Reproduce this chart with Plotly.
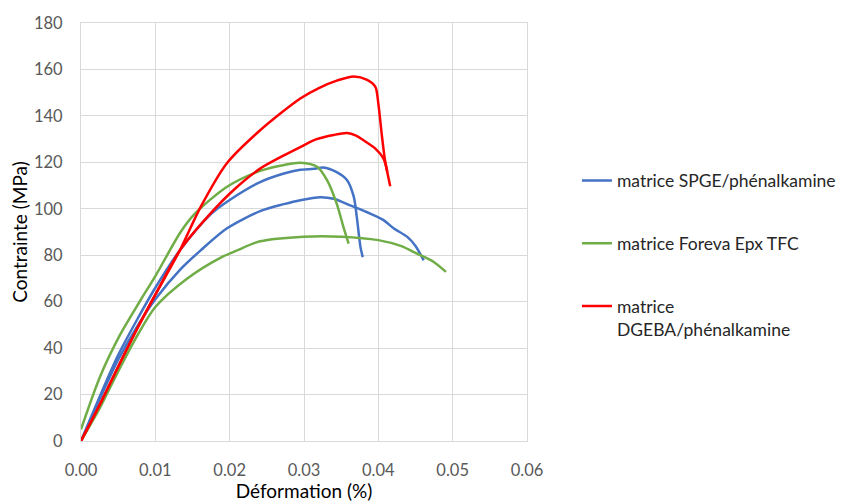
import plotly.graph_objects as go

# SPGE/phénalkamine specimens
spge1_x = [0, 0.0025, 0.005, 0.0075, 0.0100, 0.0133, 0.0174, 0.0201, 0.0241, 0.0273, 0.0295, 0.0313, 0.0326, 0.0344, 0.0358, 0.0367, 0.0371, 0.0376, 0.0379]
spge1_y = [0, 19, 37, 52, 66, 82.1, 97.5, 104, 111.5, 115.2, 116.8, 117.2, 117.8, 115.8, 112.3, 105.1, 96.5, 83.5, 79.2]
spge2_x = [0, 0.0025, 0.005, 0.0075, 0.0100, 0.0134, 0.0161, 0.0196, 0.0241, 0.0273, 0.0295, 0.0322, 0.0340, 0.0362, 0.0385, 0.0407, 0.0421, 0.0439, 0.0450, 0.0461]
spge2_y = [0, 18, 35, 49, 61, 74, 82.1, 91.5, 99, 102, 103.7, 105, 104.3, 101.5, 98.5, 95.1, 91.5, 87.9, 84, 77.8]

# Foreva Epx TFC specimens
fore1_x = [0, 0.0026, 0.0053, 0.0080, 0.0100, 0.0134, 0.0152, 0.0196, 0.0241, 0.0275, 0.0295, 0.0318, 0.0331, 0.0344, 0.0353, 0.0360]
fore1_y = [5, 28, 46, 60.6, 71, 90, 97.5, 109.4, 116.3, 119, 119.8, 118, 112.3, 102.2, 92.2, 85]
fore2_x = [0, 0.0025, 0.0050, 0.0075, 0.0100, 0.0143, 0.0188, 0.0210, 0.0241, 0.0300, 0.0350, 0.0400, 0.0430, 0.0452, 0.0475, 0.0491]
fore2_y = [0, 14, 30, 45, 57.7, 70, 79, 82.1, 86, 88, 88, 86.5, 84, 80.7, 77, 72.8]

# DGEBA/phénalkamine specimens
dgeba1_x = [0, 0.0025, 0.005, 0.0075, 0.0100, 0.0133, 0.0161, 0.0196, 0.0241, 0.0295, 0.0320, 0.0345, 0.0367, 0.0385, 0.0396, 0.0400, 0.0405, 0.0409, 0.0416]
dgeba1_y = [0, 15.5, 32, 48, 63, 82.1, 100.8, 119.5, 133.8, 147.5, 152, 155.3, 157, 155.5, 152.5, 145.3, 130.9, 120.9, 109.7]
dgeba2_x = [0, 0.0025, 0.005, 0.0075, 0.0100, 0.0133, 0.0174, 0.0205, 0.0241, 0.0273, 0.0295, 0.0317, 0.0340, 0.0358, 0.0370, 0.0380, 0.0396, 0.0407, 0.0412]
dgeba2_y = [0, 15.5, 32, 48, 63, 82.1, 97.9, 108, 117.3, 123, 126.6, 130, 131.8, 132.6, 131.5, 129.5, 125.9, 121.6, 116]

names = ["matrice SPGE/phénalkamine", "matrice Foreva Epx TFC", "matrice<br>DGEBA/phénalkamine"]
colors = ["#4472C4", "#70AD47", "#FF0000"]
x_ticks = [0, 0.01, 0.02, 0.03, 0.04, 0.05, 0.06]
x_tick_labels = ["0.00", "0.01", "0.02", "0.03", "0.04", "0.05", "0.06"]

series = [
    [(spge1_x, spge1_y), (spge2_x, spge2_y)],
    [(fore1_x, fore1_y), (fore2_x, fore2_y)],
    [(dgeba1_x, dgeba1_y), (dgeba2_x, dgeba2_y)],
]

FONT = "Lato, 'Open Sans', sans-serif"
fig = go.Figure()
for i, specs in enumerate(series):
    for j, (xs, ys) in enumerate(specs):
        fig.add_trace(go.Scatter(
            x=xs, y=ys, mode="lines", name=names[i],
            legendgroup=f"g{i}", showlegend=(j == 0),
            line=dict(color=colors[i], width=2.5, shape="spline", smoothing=0.8),
        ))

# page body has an 8px margin, so the figure is sized/offset to compensate
fig.update_layout(
    width=846, height=494,
    margin=dict(l=73, r=327, t=15, b=61),
    paper_bgcolor="white", plot_bgcolor="white",
    font=dict(family=FONT, size=16.5, color="#595959"),
    legend=dict(
        x=1.112, xanchor="left", y=0.666, yanchor="top",
        font=dict(family=FONT, size=17.5, color="#262626"),
        tracegroupgap=37, traceorder="grouped", valign="top",
        bgcolor="rgba(0,0,0,0)",
    ),
    xaxis=dict(
        range=[0, 0.06], tickvals=x_ticks, ticktext=x_tick_labels,
        showgrid=True, gridcolor="#D9D9D9", gridwidth=1,
        showline=True, linecolor="#D9D9D9", linewidth=1, mirror=True,
        zeroline=False, ticks="", ticklabelstandoff=14, automargin=False,
        title=dict(text="Déformation (%)", font=dict(family=FONT, size=19, color="#000000"), standoff=18),
    ),
    yaxis=dict(
        range=[0, 180], dtick=20,
        showgrid=True, gridcolor="#D9D9D9", gridwidth=1,
        showline=True, linecolor="#D9D9D9", linewidth=1, mirror=True,
        zeroline=False, ticks="", ticklabelstandoff=14, automargin=False,
        title=dict(text="Contrainte (MPa)", font=dict(family=FONT, size=19, color="#000000"), standoff=2),
    ),
)

fig.write_html("out.html")
